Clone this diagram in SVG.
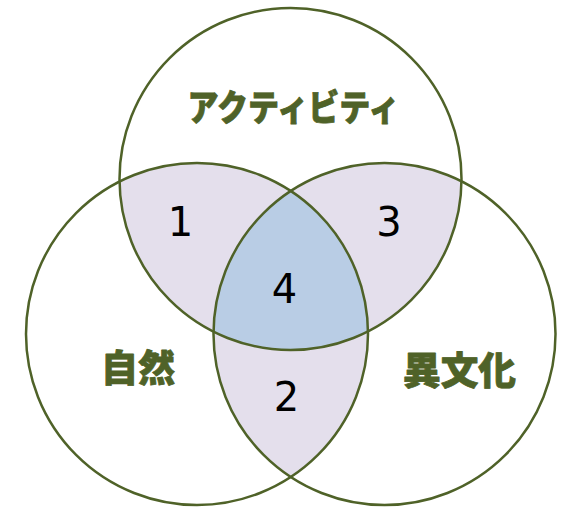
<svg xmlns="http://www.w3.org/2000/svg" width="564" height="507" viewBox="0 0 564 507">
<style>
.ring{fill:none;stroke:#4f6228;stroke-width:2.5}
.lbl{font-family:"Noto Sans CJK JP","Noto Sans",sans-serif;font-weight:900;fill:#4f6228;stroke:#4f6228;stroke-width:0.8;stroke-linejoin:round;text-anchor:middle}
.num{font-family:"DejaVu Sans",sans-serif;font-size:40px;fill:#000;text-anchor:middle}
.pair{fill:#e4dfec}
.tri{fill:#b9cde5}
</style>
<defs>
<clipPath id="cTop"><circle cx="290.5" cy="179" r="171"/></clipPath>
<clipPath id="cLeft"><circle cx="197" cy="334" r="171"/></clipPath>
<clipPath id="cRight"><circle cx="384.5" cy="334" r="171"/></clipPath>
</defs>
<rect width="564" height="507" fill="#fff"/>
<g id="regions">
<g clip-path="url(#cTop)"><circle class="pair" cx="197" cy="334" r="171"/></g>
<g clip-path="url(#cTop)"><circle class="pair" cx="384.5" cy="334" r="171"/></g>
<g clip-path="url(#cLeft)"><circle class="pair" cx="384.5" cy="334" r="171"/></g>
<g clip-path="url(#cTop)"><g clip-path="url(#cLeft)"><circle class="tri" cx="384.5" cy="334" r="171"/></g></g>
</g>
<g id="activity"><circle class="ring" cx="290.5" cy="179" r="171"/><text class="lbl" x="293.5" y="121" font-size="36" textLength="212" lengthAdjust="spacingAndGlyphs">アクティビティ</text></g>
<g id="nature"><circle class="ring" cx="197" cy="334" r="171"/><text class="lbl" x="138" y="382" font-size="37">自然</text></g>
<g id="culture"><circle class="ring" cx="384.5" cy="334" r="171"/><text class="lbl" x="459.5" y="384" font-size="38" textLength="113" lengthAdjust="spacingAndGlyphs">異文化</text></g>
<g id="numbers">
<text class="num" x="180.5" y="235.5">1</text>
<text class="num" x="389" y="236">3</text>
<text class="num" x="284.5" y="303">4</text>
<text class="num" x="286.5" y="411">2</text>
</g>
</svg>
